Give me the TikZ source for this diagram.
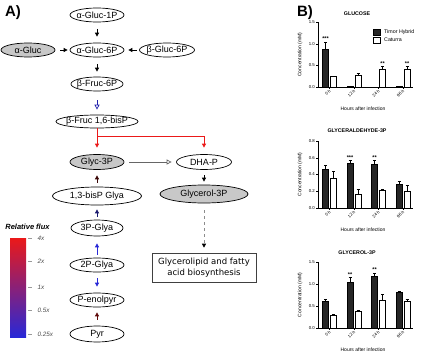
\documentclass[tikz,border=0pt]{standalone}
\usepackage{fontspec}
\setmainfont{Liberation Sans}
\newfontfamily\boxfont{DejaVu Sans}
\usetikzlibrary{arrows.meta,shapes.geometric}

\definecolor{fluxred}{RGB}{235,25,25}
\definecolor{fluxblue}{RGB}{40,40,215}
\definecolor{darkred}{RGB}{95,10,10}
\definecolor{navy}{RGB}{25,25,110}
\definecolor{metgray}{RGB}{200,200,200}

% #1 base, #2 px per unit, #3 y max, #4 y ticks, #5 bars, #6 stars, #7 title, #8 title y
\newcommand{\barchart}[8]{%
  % axes
  \draw[axis] (318,{#1-#2*#3}) -- (318,#1) -- (413,#1);
  \foreach \v/\l in {#4} {
    \draw[axis] (316,{#1-#2*\v}) -- (318,{#1-#2*\v});
    \node[ticklabel, anchor=east] at (315.5,{#1-#2*\v}) {\l};
  }
  \foreach \cx/\h in {329.5/0 h, 354/12 h, 378.5/24 h, 403/96 h} {
    \draw[axis] (\cx,#1) -- (\cx,#1+2);
    \node[ticklabel, rotate=45, anchor=east] at (\cx+1,#1+3) {\h};
  }
  % bars with error bars
  \foreach \cx/\ta/\te/\ca/\ce in {#5} {
    \draw[thbar] (\cx-7,#1) rectangle (\cx-1,{#1-#2*\ta});
    \draw[cabar] (\cx+1,#1) rectangle (\cx+7,{#1-#2*\ca});
    \draw[errbar] (\cx-4,{#1-#2*\ta}) -- (\cx-4,{#1-#2*(\ta+\te)})
      (\cx-5.5,{#1-#2*(\ta+\te)}) -- (\cx-2.5,{#1-#2*(\ta+\te)});
    \draw[errbar] (\cx+4,{#1-#2*\ca}) -- (\cx+4,{#1-#2*(\ca+\ce)})
      (\cx+2.5,{#1-#2*(\ca+\ce)}) -- (\cx+5.5,{#1-#2*(\ca+\ce)});
  }
  % significance
  \foreach \sx/\sv/\st in {#6}
    \node[stars] at (\sx,{#1-#2*\sv}) {\st};
  \node[charttitle] at (357,#8) {#7};
  \node[axislabel, rotate=90] at (300,{#1-#2*#3/2}) {Concentration (mM)};
  \node[axislabel] at (363,#1+22) {Hours after infection};
}

\begin{document}
\begin{tikzpicture}[x=1pt, y=-1pt,
    met/.style={ellipse, draw, line width=0.7pt, inner xsep=-8pt, inner ysep=0pt,
      minimum width=54pt, minimum height=14pt, font=\fontsize{9}{10}\selectfont},
    pool/.style={met, fill=metgray},
    flux/.style={-{Triangle[length=4pt,width=4pt]}, line width=0.8pt},
    openflux/.style={-{Triangle[open,length=5pt,width=5pt]}, line width=0.7pt},
    panellabel/.style={font=\fontsize{15}{15}\selectfont\bfseries},
    scalelabel/.style={anchor=west, text=black!70, font=\fontsize{6.3}{6.3}\selectfont\itshape},
    axis/.style={line width=0.4pt},
    errbar/.style={line width=0.35pt},
    thbar/.style={draw, line width=0.4pt, fill=black!85},
    cabar/.style={draw, line width=0.4pt, fill=white},
    ticklabel/.style={inner sep=0.5pt, font=\fontsize{4.3}{4.5}\selectfont},
    axislabel/.style={inner sep=0pt, font=\fontsize{5}{5}\selectfont},
    charttitle/.style={inner sep=0pt, font=\fontsize{5.3}{5.5}\selectfont\bfseries},
    stars/.style={anchor=south, inner sep=1pt, font=\fontsize{5.5}{5.5}\selectfont\bfseries}]
\useasboundingbox (0,0) rectangle (426,364);
% panel labels
\node[panellabel] (labA) at (13,13) {A)};
\node[panellabel] (labB) at (305,13) {B)};
% metabolites
\node[met] (g1p) at (97,15) {α-Gluc-1P};
\node[met] (g6p) at (97,50) {α-Gluc-6P};
\node[pool] (agluc) at (28,50) {α-Gluc};
\node[met, minimum width=55pt] (bg6p) at (167,50) {β-Gluc-6P};
\node[met, minimum width=52pt] (f6p) at (97,84) {β-Fruc-6P};
\node[met, minimum width=82pt, minimum height=13pt] (fbp) at (97,121.5) {β-Fruc 1,6-bisP};
\node[pool, minimum height=15pt] (g3p) at (97,162) {Glyc-3P};
\node[met, minimum width=55pt, minimum height=15pt] (dhap) at (204,162) {DHA-P};
\node[pool, minimum width=88pt, minimum height=18pt] (glol) at (204,194) {Glycerol-3P};
\node[draw, line width=0.6pt, draw=black!75, minimum width=104pt, minimum height=29pt,
  align=center, font=\boxfont\fontsize{8.5}{11}\selectfont] (lipid) at (204,267.5)
  {Glycerolipid and fatty\\acid biosynthesis};
\node[met, minimum width=89pt, minimum height=18pt] (bpg) at (97,196) {1,3-bisP Glya};
\node[met, minimum width=52pt, minimum height=16pt] (pga3) at (97,228) {3P-Glya};
\node[met] (pga2) at (97,265) {2P-Glya};
\node[met] (pep) at (97,300) {P-enolpyr};
\node[met, minimum height=16pt] (pyr) at (97,334) {Pyr};
% upper glycolysis
\draw[flux, shorten <=6.5pt, shorten >=6pt] (g1p) -- (g6p);
\draw[flux, shorten <=5pt, shorten >=2pt] (agluc) -- (g6p);
\draw[flux, shorten <=2.5pt, shorten >=4pt] (bg6p) -- (g6p);
\draw[flux, shorten <=7pt, shorten >=5pt] (g6p) -- (f6p);
\draw[openflux, draw=fluxblue!80!black, shorten <=9pt, shorten >=5pt] (f6p) -- (fbp);
% aldolase split
\coordinate (split) at (97,136);
\draw[flux, draw=fluxred, shorten >=6.5pt] (fbp) -- (split) -| (dhap);
\draw[flux, draw=fluxred, shorten >=6.5pt] (split) -- (g3p);
\draw[openflux, draw=black!60, shorten <=5pt, shorten >=4.5pt] (g3p) -- (dhap);
\draw[flux, shorten <=5.5pt, shorten >=3pt] (dhap) -- (glol);
\draw[flux, draw=black!45, dashed, -{Triangle[length=4pt,width=4pt,fill=black,color=black]},
  shorten <=7pt, shorten >=5pt] (glol) -- (lipid);
% lower glycolysis
\draw[flux, draw=darkred!60!black, shorten <=4pt, shorten >=5.5pt] (bpg) -- (g3p);
\draw[flux, draw=navy, shorten <=3pt, shorten >=4pt] (pga3) -- (bpg);
\draw[flux, draw=fluxblue, shorten <=3pt, shorten >=7pt] (pga2) -- (pga3);
\draw[flux, draw=fluxblue, shorten <=6pt, shorten >=6pt] (pga2) -- (pep);
\draw[flux, draw=darkred, shorten <=6pt, shorten >=5pt] (pyr) -- (pep);
% colour scale
\node[font=\fontsize{7.5}{7.5}\selectfont\bfseries\itshape] (fluxtitle) at (27.5,227) {Relative flux};
\shade[top color=fluxred, middle color=black, bottom color=fluxblue] (10,238) rectangle (26,337);
\foreach \y/\l in {238/4x, 261/2x, 287/1x, 310/0.5x, 334/0.25x} {
  \draw[black!40, line width=0.3pt] (28,\y) -- (32,\y);
  \node[scalelabel] at (34,\y) {\l};
}
% GLUCOSE
\barchart{87}{43.3}{1.5}{0/0.0, 0.5/0.5, 1/1.0, 1.5/1.5}
  {329.5/0.87/0.17/0.25/0.01, 354/0.01/0/0.27/0.05, 378.5/0/0/0.40/0.08, 403/0.01/0/0.40/0.08}
  {325.5/1.04/***, 382.5/0.48/**, 407/0.48/**}{GLUCOSE}{14}
\draw[thbar] (373,29) rectangle (380,35);
\node[axislabel, anchor=west, font=\fontsize{5.3}{5.5}\selectfont] (thlab) at (384,32) {Timor Hybrid};
\draw[cabar] (373,37) rectangle (380,43);
\node[axislabel, anchor=west, font=\fontsize{5.3}{5.5}\selectfont] (calab) at (384,40) {Caturra};
% GLYCERALDEHYDE-3P
\barchart{208}{83.75}{0.8}{0/0.0, 0.2/0.2, 0.4/0.4, 0.6/0.6, 0.8/0.8}
  {329.5/0.46/0.05/0.36/0.08, 354/0.54/0.03/0.17/0.05, 378.5/0.52/0.05/0.21/0.01, 403/0.28/0.04/0.20/0.07}
  {350/0.57/***, 374.5/0.57/**}{GLYCERALDEHYDE-3P}{131}
% GLYCEROL-3P
\barchart{328}{44}{1.5}{0/0.0, 0.5/0.5, 1/1.0, 1.5/1.5}
  {329.5/0.60/0.06/0.28/0.03, 354/1.05/0.10/0.39/0.01, 378.5/1.17/0.08/0.64/0.12, 403/0.82/0.01/0.62/0.04}
  {350/1.15/**, 374.5/1.25/**}{GLYCEROL-3P}{253}
\end{tikzpicture}
\end{document}
